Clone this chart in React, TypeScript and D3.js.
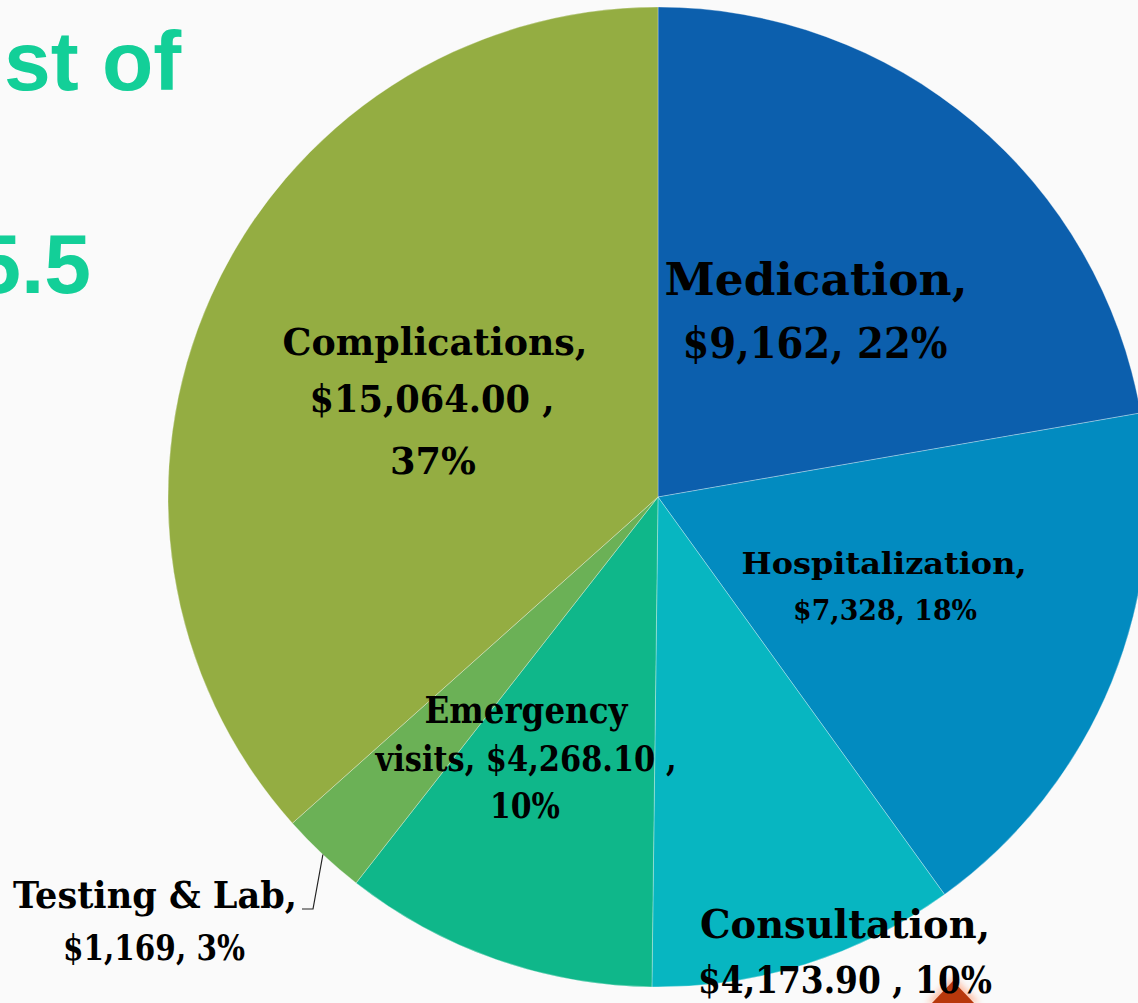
import React from "react";
import * as d3 from "d3";

const categories = ["Medication", "Hospitalization", "Consultation", "Emergency visits", "Testing & Lab", "Complications"];
const costs = [9162, 7328, 4173.9, 4268.1, 1169, 15064];
const valueLabels = ["$9,162", "$7,328", "$4,173.90 ", "$4,268.10 ", "$1,169", "$15,064.00 "];
const percentLabels = ["22%", "18%", "10%", "10%", "3%", "37%"];
const sliceColors = ["#0c5fad", "#028bc0", "#07b6c1", "#0fb78a", "#6bb156", "#94ad42"];

const W = 1138;
const H = 1003;
const CX = 658;
const CY = 497;
const R = 490;

type Line = { t: string; x: number; y: number; s: number; w: number };
function labelLines(i: number): Line[] {
  const v = valueLabels[i];
  const p = percentLabels[i];
  switch (i) {
    case 0:
      return [
        { t: categories[0] + ",", x: 816, y: 295, s: 44, w: 303 },
        { t: `${v}, ${p}`, x: 815, y: 358, s: 42, w: 265 },
      ];
    case 1:
      return [
        { t: categories[1] + ",", x: 884, y: 574, s: 30, w: 285 },
        { t: `${v}, ${p}`, x: 885, y: 620, s: 28, w: 184 },
      ];
    case 2:
      return [
        { t: categories[2] + ",", x: 845, y: 938, s: 40, w: 290 },
        { t: `${v}, ${p}`, x: 845, y: 993, s: 38, w: 294 },
      ];
    case 3:
      return [
        { t: "Emergency", x: 526, y: 723, s: 37, w: 203 },
        { t: `visits, ${v},`, x: 526, y: 771, s: 36, w: 301 },
        { t: p, x: 525, y: 818, s: 35, w: 70 },
      ];
    case 4:
      return [
        { t: categories[4] + ",", x: 155, y: 908, s: 37, w: 284 },
        { t: `${v}, ${p}`, x: 154, y: 960, s: 36, w: 182 },
      ];
    default:
      return [
        { t: categories[5] + ",", x: 435, y: 355, s: 38, w: 305 },
        { t: `${v},`, x: 432, y: 412, s: 38, w: 245 },
        { t: p, x: 433, y: 474, s: 38, w: 86 },
      ];
  }
}

export default function App() {
  const pie = d3.pie<number>().sort(null).value((d) => d)(costs);
  const arc = d3.arc<d3.PieArcDatum<number>>().innerRadius(0).outerRadius(R);

  const testing = pie[4];
  const midA = (testing.startAngle + testing.endAngle) / 2;
  const edge: [number, number] = [CX + R * Math.sin(midA), CY - R * Math.cos(midA)];
  const leader = d3.line()([edge, [313, 909], [302, 909]]) || "";

  return (
    <svg
      width={W}
      height={H}
      style={{ position: "absolute", left: 0, top: 0, background: "#fafafa" }}
    >
      <defs>
        <filter id="glow" x="-50%" y="-50%" width="200%" height="200%">
          <feGaussianBlur stdDeviation="3" />
        </filter>
      </defs>
      <rect x={0} y={0} width={W} height={H} fill="#fafafa" />
      <text x={4} y={90} fontFamily="Liberation Sans, Arial, sans-serif" fontWeight="bold" fontSize={84} fill="#13cf98">
        st of
      </text>
      <text x={91} y={293} textAnchor="end" fontFamily="Liberation Sans, Arial, sans-serif" fontWeight="bold" fontSize={84} fill="#13cf98">
        5.5
      </text>
      <g transform={`translate(${CX},${CY})`}>
        {pie.map((d, i) => (
          <path key={i} d={arc(d) || ""} fill={sliceColors[i]} stroke="rgba(255,255,255,0.3)" strokeWidth={1} />
        ))}
      </g>
      <path d={leader} fill="none" stroke="#222" strokeWidth={1.2} />
      <g>
        <path d="M926,1003 L953,976 L980,1003 Z" fill="#ff8a5a" opacity={0.5} filter="url(#glow)" />
        <path d="M932,1003 L953,981 L974,1003 Z" fill="#b8380c" />
      </g>
      {categories.map((_, i) =>
        labelLines(i).map((l, j) => (
          <text
            key={`${i}-${j}`}
            x={l.x}
            y={l.y}
            textAnchor="middle"
            fontFamily="DejaVu Serif, serif"
            fontWeight="bold"
            fontSize={l.s}
            textLength={l.w}
            lengthAdjust="spacingAndGlyphs"
            fill="#000"
          >
            {l.t}
          </text>
        ))
      )}
    </svg>
  );
}
